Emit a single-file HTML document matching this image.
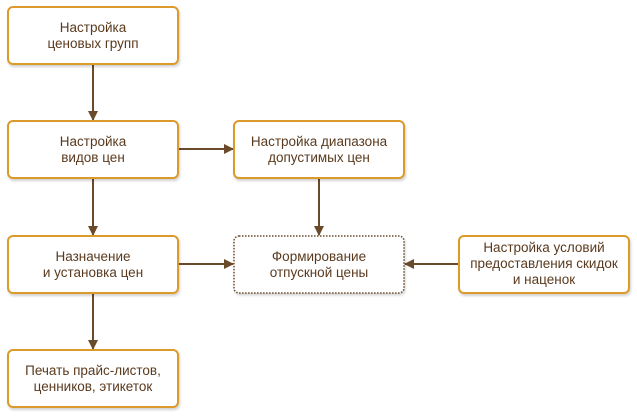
<!DOCTYPE html>
<html><head><meta charset="utf-8"><style>
html,body{margin:0;padding:0;background:#fff;}
svg{display:block;}
text{font-family:"Liberation Sans",sans-serif;font-size:13.5px;fill:#5a3a1e;text-anchor:middle;}
</style></head><body>
<svg width="637" height="416" viewBox="0 0 637 416" xmlns="http://www.w3.org/2000/svg">
<defs>
<filter id="sh" x="-10%" y="-10%" width="120%" height="130%"><feDropShadow dx="1" dy="2" stdDeviation="1.2" flood-color="#000" flood-opacity="0.18"/></filter>
<marker id="ar" markerWidth="10" markerHeight="10" refX="9" refY="5" orient="auto" markerUnits="userSpaceOnUse"><path d="M0,0 L10,5 L0,10 z" fill="#6b4a2a"/></marker>
</defs>
<g stroke="#6b4a2a" stroke-width="2" fill="none">
<line x1="93" y1="64" x2="93" y2="120" marker-end="url(#ar)"/>
<line x1="93" y1="178" x2="93" y2="235" marker-end="url(#ar)"/>
<line x1="93" y1="293" x2="93" y2="349" marker-end="url(#ar)"/>
<line x1="178" y1="149" x2="233" y2="149" marker-end="url(#ar)"/>
<line x1="178" y1="264" x2="233" y2="264" marker-end="url(#ar)"/>
<line x1="319" y1="178" x2="319" y2="235" marker-end="url(#ar)"/>
<line x1="459" y1="264" x2="405" y2="264" marker-end="url(#ar)"/>
</g>
<g fill="#fff" stroke="#dc9a2c" stroke-width="2" filter="url(#sh)">
<rect x="8" y="7" width="170" height="57" rx="5"/>
<rect x="8" y="121" width="170" height="57" rx="5"/>
<rect x="8" y="236" width="170" height="57" rx="5"/>
<rect x="8" y="350" width="170" height="57" rx="5"/>
<rect x="234" y="121" width="170" height="57" rx="5"/>
<rect x="459" y="236" width="170" height="57" rx="5"/>
</g>
<rect x="234" y="236" width="170" height="57" rx="5" fill="#fff" stroke="#6b4a2a" stroke-width="1.5" stroke-dasharray="1.5,1.5" filter="url(#sh)"/>
<text x="93" y="32">Настройка</text><text x="93" y="48">ценовых групп</text>
<text x="93" y="146">Настройка</text><text x="93" y="162">видов цен</text>
<text x="93" y="261">Назначение</text><text x="93" y="277">и установка цен</text>
<text x="93" y="375">Печать прайс-листов,</text><text x="93" y="391">ценников, этикеток</text>
<text x="319" y="146">Настройка диапазона</text><text x="319" y="162">допустимых цен</text>
<text x="319" y="261">Формирование</text><text x="319" y="277">отпускной цены</text>
<text x="544" y="252">Настройка условий</text><text x="544" y="268">предоставления скидок</text><text x="544" y="284">и наценок</text>
</svg>
</body></html>
